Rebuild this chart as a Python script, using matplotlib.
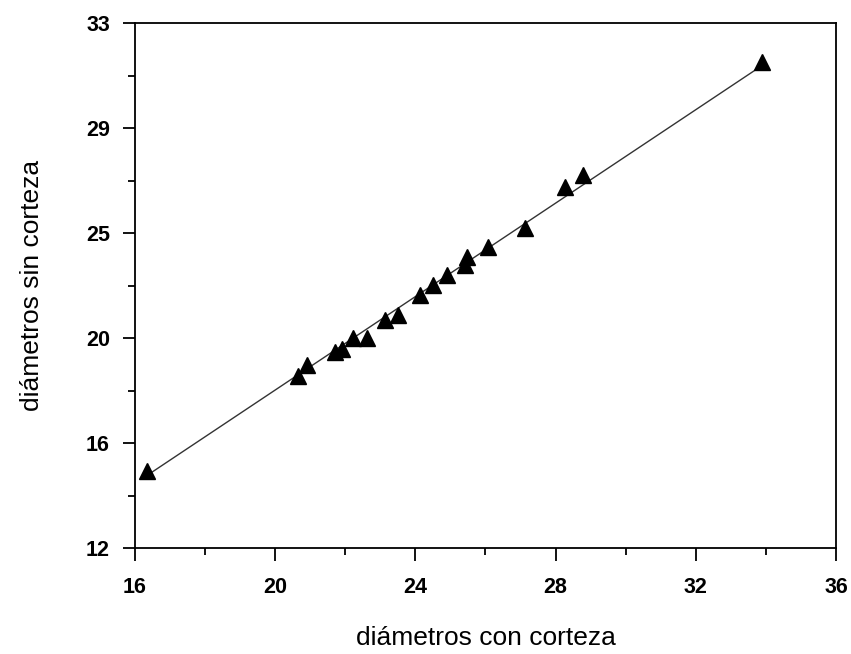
import numpy as np
import matplotlib.pyplot as plt
from matplotlib.ticker import FixedLocator, FixedFormatter

# data
con_corteza = [16.34, 20.65, 20.91, 21.71, 21.90, 22.22, 22.62, 23.13, 23.50,
               24.13, 24.50, 24.90, 25.42, 25.47, 26.07, 27.13, 28.27, 28.78, 33.89]
sin_corteza = [15.08, 18.88, 19.32, 19.84, 19.96, 20.40, 20.40, 21.12, 21.32,
               22.12, 22.52, 22.92, 23.32, 23.64, 24.04, 24.80, 26.44, 26.92, 31.44]

# fitted line end points
fit_x = [16.34, 33.89]
fit_y = [14.90, 31.30]

y_ticks = [12, 16.2, 20.4, 24.6, 28.8, 33]
y_labels = ["12", "16", "20", "25", "29", "33"]
x_ticks = [16, 20, 24, 28, 32, 36]

plt.rcParams['font.family'] = ['Liberation Sans', 'DejaVu Sans']

fig = plt.figure(figsize=(8.51, 6.54), dpi=100)
ax = fig.add_axes([0.1586, 0.162, 0.8238, 0.8028])

ax.plot(fit_x, fit_y, color="#333333", lw=1.0)
ax.plot(con_corteza, sin_corteza, linestyle="none", marker="^", markersize=11,
        color="black")

ax.set_xlim(16, 36)
ax.set_ylim(12, 33)

ax.xaxis.set_major_locator(FixedLocator(x_ticks))
ax.xaxis.set_minor_locator(FixedLocator(np.arange(18, 36, 4)))
ax.yaxis.set_major_locator(FixedLocator(y_ticks))
ax.yaxis.set_minor_locator(FixedLocator([14.1, 18.3, 22.5, 26.7, 30.9]))
ax.yaxis.set_major_formatter(FixedFormatter(y_labels))

ax.tick_params(which="major", direction="out", length=9, width=1.3,
               labelsize=15.5)
ax.tick_params(which="minor", direction="out", length=5, width=1.3)
ax.tick_params(axis="x", which="major", pad=12)
ax.tick_params(axis="y", which="major", pad=9)
for lab in ax.get_xticklabels() + ax.get_yticklabels():
    lab.set_fontweight("bold")

for sp in ax.spines.values():
    sp.set_linewidth(1.3)

ax.set_xlabel("diámetros con corteza", fontsize=19, labelpad=20)
ax.set_ylabel("diámetros sin corteza", fontsize=19, labelpad=30)

plt.savefig("out.png", dpi=100)
